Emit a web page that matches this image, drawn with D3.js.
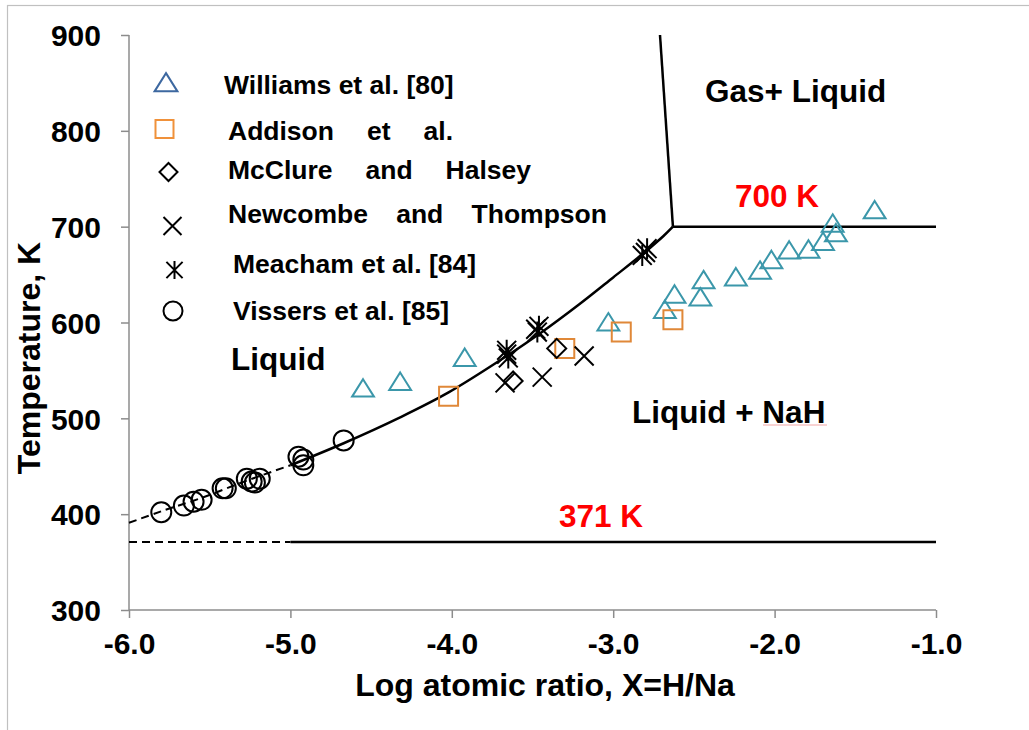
<!DOCTYPE html>
<html>
<head>
<meta charset="utf-8">
<script src="https://cdn.jsdelivr.net/npm/d3@7/dist/d3.min.js"></script>
<style>
  html, body { margin: 0; padding: 0; background: #fff; }
  svg { display: block; }
  text { font-family: "Liberation Sans", Arial, sans-serif; font-weight: bold; }
</style>
</head>
<body>
<svg id="chart" width="1029" height="730"></svg>
<script>
// ---- data: log10(H/Na) vs temperature (K) ----
const williamsX = [-4.55, -4.32, -3.92, -3.03, -2.68, -2.62, -2.46, -2.44, -2.24, -2.09, -2.02, -1.91, -1.79, -1.70, -1.64, -1.62, -1.38];
const williamsT = [531, 538, 563, 600, 613, 629, 626, 644, 647, 654, 665, 675, 676, 684, 703, 693, 717];

const addisonX = [-4.02, -3.30, -2.95, -2.63];
const addisonT = [523, 573, 590, 603];

const mcclureX = [-3.62, -3.35];
const mcclureT = [539, 573];

const newcombeX = [-3.67, -3.44, -3.18, -3.66, -3.48, -2.80];
const newcombeT = [537, 543, 565, 567, 593, 673];

const meachamX = [-3.66, -3.65, -3.46, -3.47, -2.79, -2.82];
const meachamT = [571, 563, 596, 590, 677, 670];

const vissersX = [-5.80, -5.66, -5.60, -5.55, -5.42, -5.40, -5.27, -5.24, -5.22, -5.19, -4.95, -4.92, -4.92, -4.67];
const vissersT = [402, 409, 413, 415, 427, 427, 437, 434, 433, 437, 460, 457, 451, 477];

// liquidus (solubility) curve; extrapolated below log X = -5
const liquidusX = [-6.0, -5.80, -5.55, -5.27, -5.0, -4.67, -4.32, -4.02, -3.66, -3.45, -3.21, -3.0, -2.80, -2.69, -2.63];
const liquidusT = [391, 403, 417, 435, 451, 474, 501, 527, 565, 589, 619, 647, 674, 690, 700];

// gas/liquid boundary and isotherms
const boilX = [-2.63, -2.71];
const boilT = [700, 900];
const iso700X = [-2.63, -1.0];
const iso371X = [-6.0, -5.0, -1.0];   // dashed, then solid
const meltT = 371;
const upperT = 700;

const xTicks = [-6.0, -5.0, -4.0, -3.0, -2.0, -1.0];
const yTicks = [300, 400, 500, 600, 700, 800, 900];

const legendLabels = [
  ["Williams et al. [80]"],
  ["Addison", "et", "al."],
  ["McClure", "and", "Halsey"],
  ["Newcombe", "and", "Thompson"],
  ["Meacham et al. [84]"],
  ["Vissers et al. [85]"]
];

// ---- layout ----
const svg = d3.select("#chart");
const x = d3.scaleLinear().domain([-6, -1]).range([129, 936]);
const y = d3.scaleLinear().domain([300, 900]).range([610, 35]);

const teal = "#3b97aa", blueLeg = "#3d68a0", orange = "#e08838", orangeLeg = "#f0913a";
const axisGrey = "#8c8c8c";

// outer frame
svg.append("rect").attr("x", 7.5).attr("y", 5.5).attr("width", 1040).attr("height", 760)
  .attr("fill", "none").attr("stroke", "#c0c0c0").attr("stroke-width", 1.2);

// axes
const yAxis = d3.axisLeft(y).tickValues(yTicks).tickSize(8).tickFormat(d3.format("d"));
const xAxis = d3.axisBottom(x).tickValues(xTicks).tickSize(8).tickFormat(d3.format(".1f"));

const gy = svg.append("g").attr("transform", `translate(${x(-6)},0)`).call(yAxis);
const gx = svg.append("g").attr("transform", `translate(0,${y(300)})`).call(xAxis);
[gx, gy].forEach(g => {
  g.select(".domain").attr("stroke", axisGrey).attr("stroke-width", 1.5);
  g.selectAll(".tick line").attr("stroke", axisGrey).attr("stroke-width", 1.5);
  g.selectAll(".tick text").attr("fill", "#000").style("font-size", "30px")
    .style("font-family", '"Liberation Sans", Arial, sans-serif').style("font-weight", "bold");
});
gy.select(".domain").attr("d", `M0,${y(900)}V${y(300)}`);
gx.select(".domain").attr("d", `M${x(-6)},0H${x(-1)}`);
gy.selectAll(".tick text").attr("x", -28).attr("dy", "0.36em");
gx.selectAll(".tick text").attr("y", 23).attr("dy", "0.71em");
gx.selectAll(".tick text").text(d => d.toFixed(1));

// axis titles
svg.append("text").attr("x", 545).attr("y", 696).attr("text-anchor", "middle")
  .style("font-size", "32px").text("Log atomic ratio, X=H/Na");
svg.append("text").attr("transform", "translate(40,358) rotate(-90)").attr("text-anchor", "middle")
  .style("font-size", "32px").text("Temperature, K");

// phase boundaries
const line = d3.line().x(d => x(d[0])).y(d => y(d[1])).curve(d3.curveCatmullRom.alpha(0.5));
const liq = d3.zip(liquidusX, liquidusT);
const split = liquidusX.indexOf(-5.0);
svg.append("path").attr("d", line(liq.slice(0, split + 1)))
  .attr("fill", "none").attr("stroke", "#000").attr("stroke-width", 2).attr("stroke-dasharray", "8,5");
svg.append("path").attr("d", line(liq.slice(split)))
  .attr("fill", "none").attr("stroke", "#000").attr("stroke-width", 2.5);

svg.append("path").attr("d", d3.line().x(d => x(d[0])).y(d => y(d[1]))(d3.zip(boilX, boilT)))
  .attr("fill", "none").attr("stroke", "#000").attr("stroke-width", 2.5);
svg.append("line").attr("x1", x(iso700X[0])).attr("x2", x(iso700X[1]))
  .attr("y1", y(upperT)).attr("y2", y(upperT)).attr("stroke", "#000").attr("stroke-width", 2.5);
svg.append("line").attr("x1", x(iso371X[0])).attr("x2", x(iso371X[1]))
  .attr("y1", y(meltT)).attr("y2", y(meltT)).attr("stroke", "#000").attr("stroke-width", 2).attr("stroke-dasharray", "8,5");
svg.append("line").attr("x1", x(iso371X[1])).attr("x2", x(iso371X[2]))
  .attr("y1", y(meltT)).attr("y2", y(meltT)).attr("stroke", "#000").attr("stroke-width", 2.5);

// marker shapes (centred on 0,0)
const shapes = {
  triangle: s => `M0,${-s * 0.45}L${s * 0.52},${s * 0.38}L${-s * 0.52},${s * 0.38}Z`,
  square: s => `M${-s / 2},${-s / 2}h${s}v${s}h${-s}Z`,
  diamond: s => `M0,${-s / 2}L${s / 2},0L0,${s / 2}L${-s / 2},0Z`,
  cross: s => `M${-s / 2},${-s / 2}L${s / 2},${s / 2}M${s / 2},${-s / 2}L${-s / 2},${s / 2}`,
  star: s => `M${-s * 0.45},${-s * 0.45}L${s * 0.45},${s * 0.45}M${s * 0.45},${-s * 0.45}L${-s * 0.45},${s * 0.45}M0,${-s / 2}V${s / 2}`,
  circle: s => d3.arc()({ innerRadius: 0, outerRadius: s / 2, startAngle: 0, endAngle: 2 * Math.PI })
};

function plot(xs, ts, shape, color, size) {
  svg.append("g").selectAll("path").data(d3.zip(xs, ts)).join("path")
    .attr("transform", d => `translate(${x(d[0])},${y(d[1])})`)
    .attr("d", shapes[shape](size))
    .attr("fill", "none").attr("stroke", color).attr("stroke-width", 2);
}

plot(vissersX, vissersT, "circle", "#000", 20);
plot(williamsX, williamsT, "triangle", teal, 21);
plot(addisonX, addisonT, "square", orange, 19);
plot(mcclureX, mcclureT, "diamond", "#000", 19);
plot(newcombeX, newcombeT, "cross", "#000", 19);
plot(meachamX, meachamT, "star", "#000", 21);

// legend
const legendShapes = ["triangle", "square", "diamond", "cross", "star", "circle"];
const legendColors = [blueLeg, orangeLeg, "#000", "#000", "#000", "#000"];
const legMarkX = [166, 164.5, 168.5, 172.5, 174.5, 173];
const legMarkY = [83, 129, 172, 226, 270, 311];
const legTextX = [224, 228, 228, 228, 233, 233];
const legTextY = [94, 140, 179, 223, 273, 320];
const legTextRight = [null, 453, 531, 607, null, null];

legendShapes.forEach((sh, i) => {
  svg.append("path").attr("transform", `translate(${legMarkX[i]},${legMarkY[i]})`)
    .attr("d", shapes[sh](sh === "circle" ? 19 : (sh === "triangle" ? 22 : 18)))
    .attr("fill", "none").attr("stroke", legendColors[i]).attr("stroke-width", 2);
  const words = legendLabels[i];
  const g = svg.append("g");
  if (words.length === 1) {
    g.append("text").attr("x", legTextX[i]).attr("y", legTextY[i]).style("font-size", "26.5px").text(words[0]);
  } else {
    // justified line: spread words between left and right edges
    const ts = words.map(w => g.append("text").attr("y", legTextY[i]).style("font-size", "26.5px").text(w));
    const widths = ts.map(t => t.node().getComputedTextLength());
    const gap = (legTextRight[i] - legTextX[i] - d3.sum(widths)) / (words.length - 1);
    let cx = legTextX[i];
    ts.forEach((t, k) => { t.attr("x", cx); cx += widths[k] + gap; });
  }
});

// region labels
const region = (tx, ty, s, col, anchor) => svg.append("text").attr("x", tx).attr("y", ty)
  .attr("text-anchor", anchor || "start").attr("fill", col).style("font-size", "31.5px").text(s);
region(705, 102, "Gas+ Liquid", "#000");
region(735, 207, "700 K", "#ff0000");
region(231, 370, "Liquid", "#000");
region(632, 423, "Liquid + NaH", "#000");
region(643, 527, "371 K", "#ff0000", "end");
// proofing underline beneath "NaH"
svg.append("line").attr("x1", 763).attr("x2", 827).attr("y1", 425).attr("y2", 425)
  .attr("stroke", "#f2a6a6").attr("stroke-width", 1);
</script>
</body>
</html>
